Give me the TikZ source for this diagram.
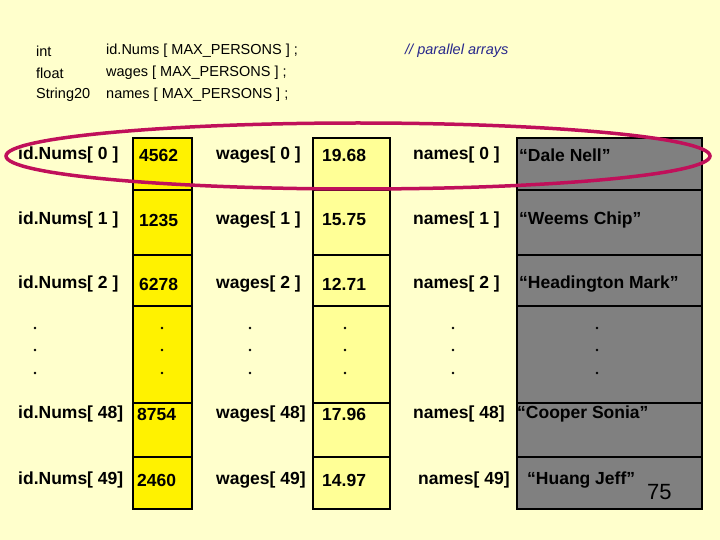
\documentclass[tikz,border=0pt]{standalone}
\usepackage{fontspec}
\setmainfont{Liberation Sans}
\definecolor{bgc}{RGB}{255,255,204}
\definecolor{lyel}{RGB}{255,255,150}
\definecolor{cmt}{RGB}{40,40,140}
\definecolor{ell}{RGB}{192,16,90}
\begin{document}
\begin{tikzpicture}[x=1pt,y=-1pt,
  lbl/.style={anchor=west,font=\bfseries\fontsize{17.5}{19}\selectfont,inner sep=0},
  hdr/.style={anchor=west,font=\fontsize{14.5}{16}\selectfont,inner sep=0},
  cell/.style={draw=black,line width=1.8pt}]
\useasboundingbox (0,0) rectangle (720,540);
\fill[bgc] (0,0) rectangle (720,540);
% header
\node[hdr] (t1) at (36,51) {int};
\node[hdr] (t2) at (36,73) {float};
\node[hdr] (t3) at (36,95) {String20};
\node[hdr] (d1) at (106,51) {id.Nums [ MAX\_PERSONS ] ;};
\node[hdr] (d2) at (106,73) {wages [ MAX\_PERSONS ] ;};
\node[hdr] (d3) at (106,95) {names [ MAX\_PERSONS ] ;};
\node[hdr,font=\itshape\fontsize{14.5}{16}\selectfont,text=cmt] (cm) at (405,51) {// parallel arrays};
% columns
\fill[yellow] (133,138) rectangle (192,509);
\fill[lyel] (313,138) rectangle (390,509);
\fill[gray] (517,138) rectangle (702,509);
\foreach \xa/\xb in {133/192,313/390,517/702}{
  \draw[cell] (\xa,138) rectangle (\xb,509);
  \foreach \yy in {190,255,306,403,457}{\draw[cell] (\xa,\yy) -- (\xb,\yy);}
}
% rows
\foreach \n/\yy/\a/\b/\c in {0/155/4562/19.68/``Dale Nell'',1/220/1235/15.75/``Weems Chip'',2/284/6278/12.71/``Headington Mark''}{
  \node[lbl] (id\n) at (18,\yy) {id.Nums[ \n\ ]};
  \node[lbl] (iv\n) at (139,\yy) {\a};
  \node[lbl] (w\n) at (216,\yy) {wages[ \n\ ]};
  \node[lbl] (wv\n) at (322,\yy) {\b};
  \node[lbl] (n\n) at (413,\yy) {names[ \n\ ]};
  \node[lbl] (nv\n) at (519,\yy) {\c};
}
\foreach \xx in {35,162,250,345,453,597}{
  \foreach \yy in {328,350,373}{\fill (\xx,\yy) circle (1.4);}
}
\node[lbl] (id48) at (18,414) {id.Nums[ 48]};
\node[lbl] (iv48) at (137,414) {8754};
\node[lbl] (w48) at (216,414) {wages[ 48]};
\node[lbl] (wv48) at (322,414) {17.96};
\node[lbl] (n48) at (413,414) {names[ 48]};
\node[lbl] (nv48) at (517,414) {``Cooper Sonia''};
\node[lbl] (id49) at (18,480) {id.Nums[ 49]};
\node[lbl] (iv49) at (137,480) {2460};
\node[lbl] (w49) at (216,480) {wages[ 49]};
\node[lbl] (wv49) at (322,480) {14.97};
\node[lbl] (n49) at (418,480) {names[ 49]};
\node[lbl] (nv49) at (527,480) {``Huang Jeff''};
\node[anchor=west,inner sep=0,font=\fontsize{22}{24}\selectfont] (pg) at (647,492) {75};
\draw[line width=3.5pt,ell] (358,156) ellipse (352 and 33);
\end{tikzpicture}
\end{document}
